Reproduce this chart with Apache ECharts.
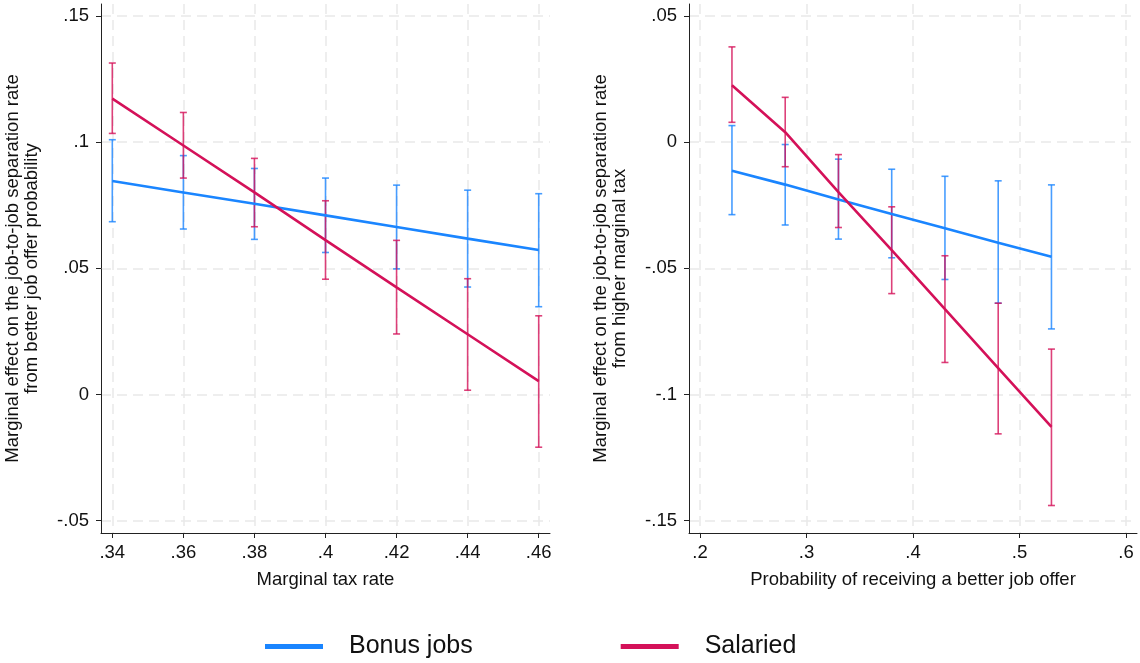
<!DOCTYPE html>
<html>
<head>
<meta charset="utf-8">
<script src="https://cdn.jsdelivr.net/npm/echarts@6/dist/echarts.min.js"></script>
<style>
  html, body { margin: 0; padding: 0; background: #fff; }
  #chart { width: 1140px; height: 663px; }
</style>
</head>
<body>
<div id="chart"></div>
<script>
// left panel: effect of better job offer probability, by marginal tax rate
const taxRate = [0.34, 0.36, 0.38, 0.40, 0.42, 0.44, 0.46];
const bonusL = [0.0846, 0.0801, 0.0756, 0.0710, 0.0664, 0.0618, 0.0573];
const bonusLlo = [0.0685, 0.0656, 0.0615, 0.0563, 0.0498, 0.0426, 0.0348];
const bonusLhi = [0.1010, 0.0947, 0.0896, 0.0858, 0.0830, 0.0810, 0.0796];
const salL = [0.1173, 0.0987, 0.0801, 0.0612, 0.0425, 0.0239, 0.0053];
const salLlo = [0.1035, 0.0858, 0.0665, 0.0457, 0.0240, 0.0017, -0.0209];
const salLhi = [0.1314, 0.1118, 0.0936, 0.0768, 0.0611, 0.0459, 0.0312];

// right panel: effect of higher marginal tax, by offer probability
const offerProb = [0.23, 0.28, 0.33, 0.38, 0.43, 0.48, 0.53];
const bonusR = [-0.0113, -0.0168, -0.0227, -0.0284, -0.0341, -0.0398, -0.0454];
const bonusRlo = [-0.0287, -0.0328, -0.0384, -0.0458, -0.0544, -0.0638, -0.0740];
const bonusRhi = [0.0066, -0.0009, -0.0067, -0.0107, -0.0135, -0.0153, -0.0169];
const salR = [0.0226, 0.0040, -0.0198, -0.0428, -0.0662, -0.0895, -0.1128];
const salRlo = [0.0079, -0.0097, -0.0338, -0.0600, -0.0873, -0.1156, -0.1440];
const salRhi = [0.0378, 0.0178, -0.0049, -0.0256, -0.0450, -0.0638, -0.0820];

// tick labels
const xTicksL = [0.34, 0.36, 0.38, 0.40, 0.42, 0.44, 0.46];
const yTicksL = [-0.05, 0, 0.05, 0.1, 0.15];
const xTicksR = [0.2, 0.3, 0.4, 0.5, 0.6];
const yTicksR = [-0.15, -0.1, -0.05, 0, 0.05];

const BLUE = '#1A85FF';
const RED = '#D41159';
const FONT = 'Liberation Sans, Arial, sans-serif';
const FS = 18.5;

function stataNum(v) {
  let s = String(+Number(v).toFixed(4));
  return s.replace(/^(-?)0\./, '$1.');
}

function pairs(xs, ys) { return xs.map((x, i) => [x, ys[i]]); }
function triples(xs, lo, hi) { return xs.map((x, i) => [x, lo[i], hi[i]]); }

function errBar(color) {
  return function (params, api) {
    const x = api.value(0);
    const a = api.coord([x, api.value(1)]);
    const b = api.coord([x, api.value(2)]);
    const w = 3.5;
    const style = { stroke: color, lineWidth: 1.6, opacity: 0.8 };
    return {
      type: 'group',
      children: [
        { type: 'line', shape: { x1: a[0], y1: a[1], x2: b[0], y2: b[1] }, style: style },
        { type: 'line', shape: { x1: a[0] - w, y1: a[1], x2: a[0] + w, y2: a[1] }, style: style },
        { type: 'line', shape: { x1: b[0] - w, y1: b[1], x2: b[0] + w, y2: b[1] }, style: style }
      ]
    };
  };
}

function xAxisOf(idx, min, max, ticks, name) {
  return {
    type: 'value', gridIndex: idx, min: min, max: max,
    name: name, nameLocation: 'middle', nameGap: 37,
    nameTextStyle: { fontFamily: FONT, fontSize: FS, color: '#111' },
    axisLine: { show: true, onZero: false, lineStyle: { color: '#222', width: 1 } },
    axisTick: { show: true, length: 5, customValues: ticks, lineStyle: { color: '#222' } },
    axisLabel: { customValues: ticks, formatter: stataNum, margin: 10,
      fontFamily: FONT, fontSize: FS, color: '#111' },
    splitLine: { show: true, lineStyle: { color: '#e9e9e9', width: 1.5, type: [10, 6] } }
  };
}

function yAxisOf(idx, min, max, ticks, name) {
  return {
    type: 'value', gridIndex: idx, min: min, max: max,
    name: name, nameLocation: 'middle', nameGap: 60, nameRotate: 90,
    nameTextStyle: { fontFamily: FONT, fontSize: FS, lineHeight: 19, color: '#111', align: 'center' },
    axisLine: { show: true, onZero: false, lineStyle: { color: '#222', width: 1 } },
    axisTick: { show: true, length: 5, customValues: ticks, lineStyle: { color: '#222' } },
    axisLabel: { customValues: ticks, formatter: stataNum, margin: 12,
      fontFamily: FONT, fontSize: FS, color: '#111' },
    splitLine: { show: true, lineStyle: { color: '#e9e9e9', width: 1.5, type: [10, 6] } }
  };
}

function ciSeries(name, idx, data, color) {
  return {
    name: name, type: 'custom', xAxisIndex: idx, yAxisIndex: idx,
    renderItem: errBar(color), encode: { x: 0, y: [1, 2] },
    data: data, z: 2, silent: true
  };
}

function lineSeries(name, idx, data, color) {
  return {
    name: name, type: 'line', xAxisIndex: idx, yAxisIndex: idx,
    data: data, showSymbol: false, symbol: 'none',
    lineStyle: { color: color, width: 2.6 }, itemStyle: { color: color },
    z: 3, silent: true
  };
}

const chart = echarts.init(document.getElementById('chart'), null, { renderer: 'canvas' });

const option = {
  backgroundColor: '#fff',
  animation: false,
  grid: [
    { left: 101, top: 4, width: 449, height: 529 },
    { left: 689, top: 4, width: 448, height: 529 }
  ],
  xAxis: [
    xAxisOf(0, 0.33682, 0.46318, xTicksL, 'Marginal tax rate'),
    xAxisOf(1, 0.18967, 0.61033, xTicksR, 'Probability of receiving a better job offer')
  ],
  yAxis: [
    yAxisOf(0, -0.0549, 0.1548, yTicksL,
      'Marginal effect on the job-to-job separation rate\nfrom better job offer probability'),
    yAxisOf(1, -0.1549, 0.0548, yTicksR,
      'Marginal effect on the job-to-job separation rate\nfrom higher marginal tax')
  ],
  legend: {
    left: 260, top: 629,
    data: ['Bonus jobs', 'Salaried'],
    icon: 'rect', itemWidth: 58, itemHeight: 5, itemGap: 148,
    textStyle: { fontFamily: FONT, fontSize: 25, color: '#111', padding: [0, 0, 0, 21] }
  },
  series: [
    ciSeries('Bonus CI L', 0, triples(taxRate, bonusLlo, bonusLhi), BLUE),
    ciSeries('Salaried CI L', 0, triples(taxRate, salLlo, salLhi), RED),
    lineSeries('Bonus jobs', 0, pairs(taxRate, bonusL), BLUE),
    lineSeries('Salaried', 0, pairs(taxRate, salL), RED),
    ciSeries('Bonus CI R', 1, triples(offerProb, bonusRlo, bonusRhi), BLUE),
    ciSeries('Salaried CI R', 1, triples(offerProb, salRlo, salRhi), RED),
    lineSeries('Bonus jobs', 1, pairs(offerProb, bonusR), BLUE),
    lineSeries('Salaried', 1, pairs(offerProb, salR), RED)
  ]
};

chart.setOption(option);
</script>
</body>
</html>
